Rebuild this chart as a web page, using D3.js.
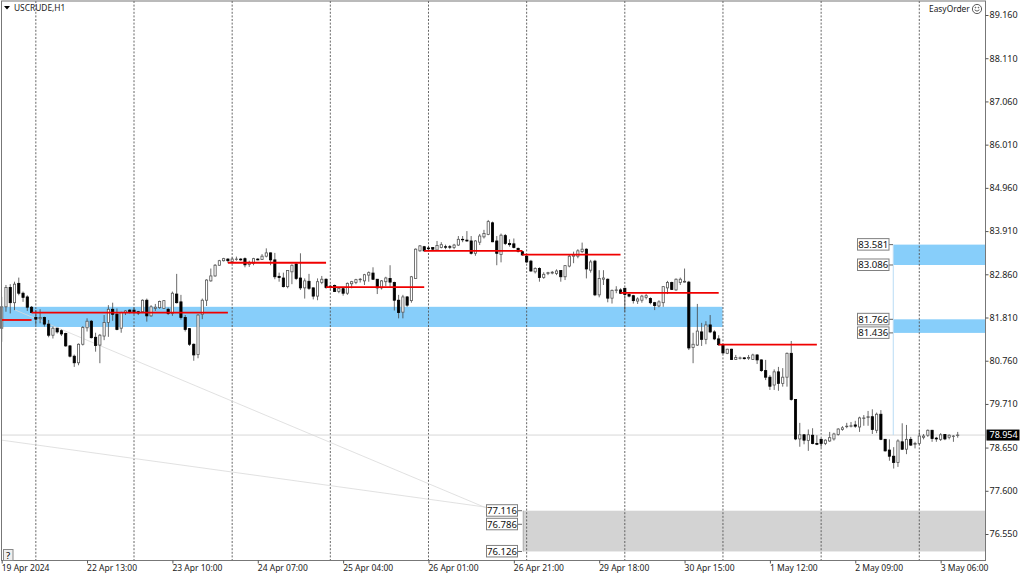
<!DOCTYPE html>
<html>
<head>
<meta charset="utf-8">
<script src="https://cdn.jsdelivr.net/npm/d3@7"></script>
<style>
  html, body { margin: 0; padding: 0; background: #fff; }
  text { font-family: "Noto Sans", Tahoma, sans-serif; fill: #222; }
  .price text, .tag, .box { font-size: 9px; }
  .box { font-size: 9.6px; }
  .time text { font-size: 8.5px; }
  .head { font-size: 8.4px; }
</style>
</head>
<body>
<svg id="chart" width="1024" height="576"></svg>
<script>
// H1 candles
const opens = [81.55,82.07,82.54,82.17,82.64,82.40,82.31,82.06,81.81,81.78,81.81,81.65,81.38,81.55,81.49,81.42,81.12,80.87,80.71,81.16,81.56,81.72,81.33,81.14,81.36,81.69,82.01,81.89,81.55,81.93,81.99,81.99,81.95,81.95,82.23,81.85,82.03,82.05,82.03,82.01,81.91,82.38,82.19,81.81,81.54,81.16,80.91,81.89,82.23,82.70,82.82,83.08,83.19,83.23,
  83.17,83.22,83.23,83.24,83.10,83.13,83.23,83.22,83.30,83.38,83.21,82.81,82.77,82.56,82.92,83.11,82.77,82.53,82.69,82.53,82.33,82.66,82.74,82.57,82.59,82.44,82.51,82.40,82.63,82.66,82.73,82.70,82.84,82.89,82.74,82.53,82.68,82.76,82.66,82.23,81.94,82.31,82.22,82.76,83.43,83.53,83.50,83.51,83.45,83.51,83.53,83.53,83.51,83.57,83.71,
  83.69,83.67,83.37,83.64,83.77,83.83,84.11,83.67,83.34,83.80,83.61,83.60,83.49,83.41,83.30,83.18,82.92,83.00,82.78,82.88,82.89,82.88,82.95,82.80,83.06,83.30,83.30,83.41,83.47,82.96,83.18,82.36,82.74,82.74,82.28,82.47,82.48,82.52,82.37,82.34,82.21,82.23,82.30,82.27,82.17,82.09,82.17,82.53,82.66,82.48,82.66,82.67,82.67,
  81.08,81.14,81.46,81.28,81.63,81.46,81.29,81.14,80.94,81.04,80.79,80.82,80.83,80.82,80.79,80.90,80.78,80.52,80.36,80.17,80.49,80.21,80.36,80.94,79.82,78.86,78.96,78.82,78.95,78.75,
  78.85,78.75,78.81,78.86,78.97,79.09,79.16,79.17,79.20,79.15,79.36,79.38,79.40,79.07,79.46,78.85,78.59,78.44,78.29,78.79,78.61,78.85,78.73,78.75,78.90,78.95,79.07,78.88,78.85,78.97,78.90,78.92,78.95];
const highs = [82.31,82.60,82.62,82.68,82.78,82.44,82.35,82.09,81.99,82.01,81.83,81.75,81.59,81.55,81.52,81.44,81.14,80.91,81.18,81.60,81.79,81.75,81.44,81.41,81.87,82.11,82.17,82.03,81.95,81.99,82.01,82.05,81.97,82.25,82.27,82.11,82.14,82.22,82.23,82.05,82.44,82.87,82.36,81.87,81.55,81.18,81.89,82.27,82.74,83.00,83.11,83.21,83.26,83.25,
  83.27,83.29,83.25,83.27,83.19,83.26,83.25,83.35,83.49,83.39,83.38,82.90,82.90,82.96,83.10,83.15,83.37,82.76,82.87,82.54,82.76,82.82,82.76,82.61,82.61,82.54,82.54,82.66,82.70,82.75,82.77,82.87,82.93,83.03,82.74,82.72,82.80,83.08,82.68,82.36,82.36,82.33,82.82,83.49,83.57,83.55,83.55,83.51,83.67,83.64,83.58,83.57,83.60,83.79,83.79,
  83.91,83.79,83.69,83.84,83.94,84.18,84.14,83.79,83.85,83.84,83.71,83.73,83.51,83.43,83.33,83.21,83.03,83.03,82.91,82.92,82.94,82.98,82.96,83.08,83.33,83.41,83.47,83.63,83.49,83.21,83.21,82.96,82.96,82.76,82.49,82.57,82.52,82.53,82.40,82.36,82.30,82.36,82.38,82.30,82.19,82.23,82.57,82.70,82.68,82.76,82.78,83.00,82.70,
  81.44,82.14,81.68,81.72,81.87,81.50,81.38,81.17,81.05,81.05,80.90,80.86,80.84,80.90,80.93,80.92,80.79,80.78,80.41,80.55,80.61,80.58,80.96,81.24,79.83,79.25,78.98,79.09,79.12,78.95,
  78.87,78.85,79.03,79.01,79.12,79.17,79.25,79.27,79.30,79.40,79.44,79.54,79.58,79.50,79.56,78.86,78.85,78.66,78.85,79.24,79.20,78.91,78.79,79.07,78.98,79.09,79.08,78.91,79.00,78.98,78.97,78.95,79.03];
const lows = [81.22,81.95,81.91,81.99,82.35,82.19,81.97,81.93,81.63,81.67,81.59,81.33,81.30,81.42,81.36,81.10,80.84,80.61,80.65,81.13,81.47,81.30,80.98,80.70,81.26,81.34,81.73,81.50,81.44,81.87,81.91,81.89,81.87,81.93,81.71,81.83,81.97,82.02,82.02,81.87,81.85,82.15,81.76,81.47,81.12,80.76,80.82,81.77,82.09,82.68,82.80,83.07,83.17,83.14,
  83.12,83.19,83.19,83.03,83.04,83.08,83.20,83.21,83.27,83.08,82.74,82.68,82.54,82.52,82.62,82.72,82.48,82.27,82.48,82.25,82.23,82.62,82.51,82.49,82.43,82.40,82.34,82.36,82.52,82.62,82.66,82.60,82.68,82.72,82.38,82.49,82.57,82.54,81.98,81.79,81.79,82.07,82.17,82.76,83.41,83.41,83.43,83.43,83.43,83.49,83.47,83.47,83.47,83.55,83.64,
  83.65,83.34,83.31,83.57,83.73,83.81,83.64,83.08,83.15,83.57,83.53,83.49,83.39,83.31,83.13,82.92,82.88,82.68,82.75,82.84,82.86,82.84,82.68,82.72,83.03,83.13,83.25,83.38,82.76,82.90,82.33,82.30,82.60,82.18,82.15,82.40,82.38,81.95,82.30,82.15,82.14,82.17,82.25,82.13,81.99,82.06,82.07,82.38,82.48,82.46,82.60,82.66,81.02,
  80.70,81.12,81.12,81.16,81.43,81.26,81.12,80.92,80.92,80.78,80.78,80.79,80.79,80.78,80.78,80.68,80.49,80.29,80.05,80.05,80.03,80.13,80.13,79.79,78.83,78.67,78.73,78.57,78.73,78.71,
  78.65,78.71,78.79,78.82,78.94,79.06,79.12,79.14,79.13,79.03,79.18,79.18,78.98,79.00,78.83,78.55,78.33,78.14,78.18,78.59,78.49,78.69,78.63,78.71,78.85,78.91,78.79,78.79,78.81,78.83,78.85,78.79,78.89];
const closes = [82.07,82.54,82.17,82.62,82.40,82.30,82.06,81.93,81.77,81.81,81.65,81.38,81.55,81.46,81.41,81.12,80.87,80.71,81.16,81.57,81.72,81.32,81.13,81.38,81.69,82.01,81.89,81.52,81.93,81.97,81.95,81.93,81.92,82.23,81.85,82.07,82.06,82.20,82.22,81.91,82.40,82.17,81.81,81.52,81.16,80.90,81.87,82.23,82.72,82.82,83.08,83.19,83.24,83.19,
  83.23,83.23,83.21,83.09,83.15,83.24,83.21,83.30,83.38,83.21,82.80,82.78,82.56,82.95,83.08,82.76,82.53,82.70,82.52,82.33,82.68,82.74,82.54,82.55,82.44,82.52,82.40,82.64,82.68,82.73,82.74,82.85,82.90,82.74,82.53,82.70,82.77,82.67,82.23,81.93,82.31,82.11,82.80,83.47,83.55,83.43,83.48,83.47,83.56,83.58,83.52,83.52,83.57,83.71,83.70,
  83.67,83.37,83.67,83.79,83.85,84.14,83.65,83.37,83.81,83.61,83.58,83.51,83.42,83.33,83.16,82.94,83.00,82.78,82.86,82.90,82.91,82.94,82.80,83.07,83.30,83.33,83.43,83.47,82.99,83.16,82.36,82.76,82.77,82.28,82.47,82.48,82.40,82.37,82.33,82.22,82.26,82.33,82.34,82.17,82.10,82.19,82.56,82.66,82.49,82.74,82.74,82.69,81.07,
  81.16,81.48,81.28,81.63,81.46,81.29,81.15,80.95,81.04,80.79,80.84,80.83,80.81,80.84,80.90,80.78,80.52,80.36,80.14,80.49,80.21,80.36,80.94,79.82,78.86,78.96,78.83,78.96,78.75,78.73,
  78.75,78.83,78.89,78.98,79.10,79.13,79.17,79.18,79.17,79.37,79.37,79.40,79.09,79.46,78.85,78.57,78.44,78.29,78.81,78.61,78.85,78.71,78.75,78.93,78.93,79.07,78.87,78.86,78.96,78.86,78.95,78.93,78.954];

// price axis and time axis
const priceTicks = [89.16,88.11,87.06,86.01,84.96,83.91,82.86,81.81,80.76,79.71,78.65,77.6,76.55];
const timeTickBars = [0,20,40,60,80,100,120,140,160,180,200,220];
const timeLabels = ['19 Apr 2024','22 Apr 13:00','23 Apr 10:00','24 Apr 07:00','25 Apr 04:00','26 Apr 01:00','26 Apr 21:00','29 Apr 18:00','30 Apr 15:00','1 May 12:00','2 May 09:00','3 May 06:00'];
const daySeparators = [8,31,54,77,100,123,146,169,192,215];

// daily levels: start bar, end bar, price
const levelStart = [0,7,53,76,99,122,145,168];
const levelEnd = [7,53,76,99,122,145,168,191];
const levelPrice = [81.75,81.93,83.14,82.55,83.43,83.34,82.41,81.15];

// zones, each with the price labels that hang off it
const zoneTop = [82.07,83.581,81.766,77.116];
const zoneBottom = [81.58,83.086,81.436,76.126];
const zoneFrom = [0,208.9,208.9,122.2];
const zoneTo = [168.9,null,null,null];
const zoneColor = ['#87cefa','#87cefa','#87cefa','#d3d3d3'];
const rightLabels = [83.581,83.086,81.766,81.436];
const greyLabels = [77.116,76.786,76.126];

// thin trend lines into the grey zone
const trendFrom = [[3,82.0],[0,78.83]];
const trendTo = [[113.6,77.18],[113.6,77.2]];

const lastPrice = 78.954;

const width = 1024, height = 576;
const plot = { left: 1.5, right: 985.5, top: 1, bottom: 560.5 };

const x = d3.scaleLinear().domain([0, 224]).range([1.7, 957.7]);
const y = d3.scaleLinear().domain([89.16, 76.55]).range([15, 534]);

const svg = d3.select('#chart');

// Zones
zoneTop.forEach((top, i) => {
    const x0 = x(zoneFrom[i]);
    const x1 = zoneTo[i] === null ? plot.right : x(zoneTo[i]);
    svg.append('rect')
        .attr('x', Math.max(x0, plot.left)).attr('y', y(top))
        .attr('width', x1 - Math.max(x0, plot.left))
        .attr('height', y(zoneBottom[i]) - y(top))
        .attr('fill', zoneColor[i]);
});

// Day separators
svg.append('g').selectAll('line').data(daySeparators).join('line')
    .attr('x1', d => x(d)).attr('x2', d => x(d))
    .attr('y1', plot.top).attr('y2', plot.bottom)
    .attr('stroke', '#555').attr('stroke-width', 0.9).attr('stroke-dasharray', '2 1.6');

// Last price line
svg.append('line')
    .attr('x1', plot.left).attr('x2', plot.right)
    .attr('y1', y(lastPrice)).attr('y2', y(lastPrice))
    .attr('stroke', '#d8d8d8').attr('stroke-width', 1);

// Trend lines
trendFrom.forEach((from, i) => {
    svg.append('line')
        .attr('x1', x(from[0])).attr('y1', y(from[1]))
        .attr('x2', x(trendTo[i][0])).attr('y2', y(trendTo[i][1]))
        .attr('stroke', '#d9d9d9').attr('stroke-width', 0.8);
});

// Vertical link between the two blue zones and the last price
svg.append('line')
    .attr('x1', x(208.9)).attr('x2', x(208.9))
    .attr('y1', y(83.581)).attr('y2', y(lastPrice))
    .attr('stroke', '#b9dcf5').attr('stroke-width', 1);
svg.append('line')
    .attr('x1', x(122.2)).attr('x2', x(122.2))
    .attr('y1', y(77.116)).attr('y2', y(76.126))
    .attr('stroke', '#a8a8a8').attr('stroke-width', 1);

// Candles
const candles = svg.append('g').selectAll('g').data(opens).join('g');
candles.append('line')
    .attr('x1', (d, i) => x(i)).attr('x2', (d, i) => x(i))
    .attr('y1', (d, i) => y(highs[i])).attr('y2', (d, i) => y(lows[i]))
    .attr('stroke', '#444').attr('stroke-width', 0.8);
candles.append('rect')
    .attr('x', (d, i) => x(i) - 1.1)
    .attr('y', (d, i) => y(Math.max(opens[i], closes[i])))
    .attr('width', 2.2)
    .attr('height', (d, i) => Math.max(0.5, Math.abs(y(opens[i]) - y(closes[i]))))
    .attr('fill', (d, i) => closes[i] >= opens[i] ? '#fff' : '#000')
    .attr('stroke', (d, i) => closes[i] >= opens[i] ? '#555' : '#000')
    .attr('stroke-width', 0.8);

// Daily levels sit on top of the candles
svg.append('g').selectAll('line').data(levelPrice).join('line')
    .attr('x1', (d, i) => x(levelStart[i])).attr('x2', (d, i) => x(levelEnd[i]))
    .attr('y1', d => y(d)).attr('y2', d => y(d))
    .attr('stroke', '#f00000').attr('stroke-width', 1.8);

// Price labels with their boxes and ticks
function priceBox(value, boxLeft, boxRight, tickEnd) {
    const cy = y(value);
    svg.append('line')
        .attr('x1', boxRight).attr('x2', tickEnd)
        .attr('y1', cy).attr('y2', cy)
        .attr('stroke', '#666').attr('stroke-width', 1);
    svg.append('rect')
        .attr('x', boxLeft).attr('y', cy - 6).attr('width', boxRight - boxLeft).attr('height', 11.5)
        .attr('fill', '#fff').attr('stroke', '#808080').attr('stroke-width', 1);
    svg.append('text')
        .attr('class', 'box')
        .attr('x', (boxLeft + boxRight) / 2).attr('y', cy + 3.4)
        .attr('text-anchor', 'middle')
        .style('fill', '#111')
        .text(value.toFixed(3));
}
rightLabels.forEach(d => priceBox(d, 857.5, 889, 893));
greyLabels.forEach(d => priceBox(d, 486.5, 517.5, 522));

// Chart frame
svg.append('rect')
    .attr('x', plot.left).attr('y', plot.top)
    .attr('width', plot.right - plot.left).attr('height', plot.bottom - plot.top)
    .attr('fill', 'none').attr('stroke', '#777').attr('stroke-width', 1);

// Axes
const priceAxis = d3.axisRight(y)
    .tickValues(priceTicks)
    .tickFormat(d => d.toFixed(3))
    .tickSize(3).tickPadding(1);
const priceG = svg.append('g').attr('class', 'price').attr('transform', `translate(${plot.right},0)`).call(priceAxis);
priceG.select('.domain').remove();
priceG.selectAll('.tick line').attr('stroke', '#555');

const timeAxis = d3.axisBottom(x)
    .tickValues(timeTickBars)
    .tickFormat((d, i) => timeLabels[i])
    .tickSize(3).tickPadding(1);
const timeG = svg.append('g').attr('class', 'time').attr('transform', `translate(0,${plot.bottom})`).call(timeAxis);
timeG.select('.domain').remove();
timeG.selectAll('.tick line').attr('stroke', '#555');
timeG.selectAll('.tick text').attr('text-anchor', 'start').attr('dx', -0.5);

// Current price tag
svg.append('rect')
    .attr('x', 986.5).attr('y', y(lastPrice) - 5.5).attr('width', 33).attr('height', 11)
    .attr('fill', '#000');
svg.append('text')
    .attr('class', 'tag')
    .attr('x', 989.5).attr('y', y(lastPrice) + 3.3)
    .style('fill', '#fff')
    .text(lastPrice.toFixed(3));

// Header
svg.append('path').attr('d', 'M4,6L10,6L7,9.5Z').attr('fill', '#000');
svg.append('text').attr('class', 'head').attr('x', 14).attr('y', 11).text('USCRUDE,H1');
svg.append('text').attr('class', 'head').attr('x', 929).attr('y', 11.5).text('EasyOrder');

// Smiley
const smile = svg.append('g').attr('transform', 'translate(977,9)')
    .attr('fill', 'none').attr('stroke', '#333').attr('stroke-width', 0.8);
smile.append('circle').attr('r', 4.6);
smile.append('path').attr('d', 'M-2.4,0.8Q0,3.6 2.4,0.8');
smile.append('circle').attr('cx', -1.5).attr('cy', -1.4).attr('r', 0.4);
smile.append('circle').attr('cx', 1.5).attr('cy', -1.4).attr('r', 0.4);

// Help button
svg.append('rect')
    .attr('x', 3.5).attr('y', 549.5).attr('width', 9.5).attr('height', 11)
    .attr('fill', '#f0f0f0').attr('stroke', '#888');
svg.append('text').attr('class', 'box').attr('x', 8.2).attr('y', 558.5).attr('text-anchor', 'middle').style('fill', '#000').text('?');
</script>
</body>
</html>
